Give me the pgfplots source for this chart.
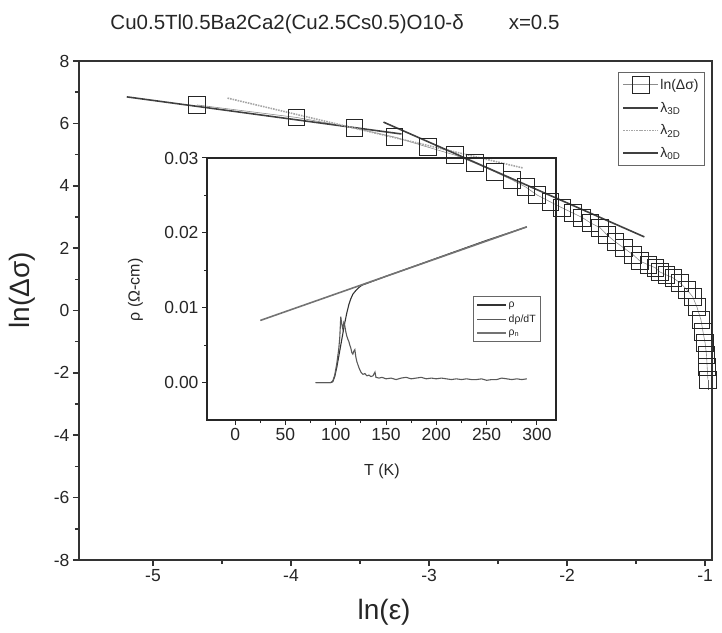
\documentclass[border=0pt]{standalone}
\usepackage{fontspec}
\setmainfont{Liberation Sans}
\usepackage{pgfplots}
\pgfplotsset{compat=1.18}
\begin{document}
\begin{tikzpicture}
\path[use as bounding box] (0pt,0pt) rectangle (722pt,632pt);
\node[font=\fontsize{20.5}{24}\selectfont, text=black!85] at (335pt,608pt) {Cu0.5Tl0.5Ba2Ca2(Cu2.5Cs0.5)O10-δ\hspace{2.2em}x=0.5};
\begin{axis}[
  at={(79pt,72pt)}, anchor=south west, scale only axis,
  width=633pt, height=499pt,
  xmin=-5.536, xmax=-0.95, ymin=-8, ymax=8,
  xtick={-5,-4,-3,-2,-1}, ytick={-8,-6,-4,-2,0,2,4,6,8},
  minor x tick num=1, minor y tick num=1,
  tick align=outside, xtick pos=bottom, ytick pos=left,
  major tick length=6pt, minor tick length=4pt,
  axis line style={line width=2.2pt, black!80},
  every tick/.style={line width=1.6pt, black!80},
  /pgf/number format/assume math mode=true,
  tick label style={font=\fontsize{17.5}{20}\selectfont, text=black!85},
  xlabel={ln(ε)}, ylabel={ln(Δσ)},
  label style={font=\fontsize{28}{31}\selectfont, text=black!85},
  xlabel style={at={(axis description cs:0.482,-0.105)}, anchor=center},
  ylabel style={at={(axis description cs:-0.09,0.541)}, anchor=center, rotate=0},
  legend style={at={(0.989,0.978)}, anchor=north east, draw=black!60, line width=0.8pt,
    font=\fontsize{14}{16}\selectfont, row sep=7pt, inner sep=4pt, text=black!85},
  legend image code/.code={\draw[mark repeat=2, mark phase=2, #1] plot coordinates {(0cm,0cm) (0.6cm,0cm) (1.2cm,0cm)};},
  legend cell align=left,
]
\addplot[black!45, line width=0.6pt, mark=square, mark size=8.4pt, mark options={black!85, solid, line width=0.9pt}] coordinates {
(-4.68,6.59) (-3.96,6.19) (-3.54,5.85) (-3.25,5.56) (-3.01,5.24) (-2.81,4.98)
(-2.67,4.73) (-2.52,4.44) (-2.40,4.19) (-2.30,3.96) (-2.22,3.71) (-2.12,3.48)
(-2.04,3.30) (-1.96,3.13) (-1.89,2.98) (-1.83,2.81) (-1.76,2.65) (-1.71,2.42)
(-1.65,2.20) (-1.59,2.01) (-1.52,1.78) (-1.47,1.58) (-1.41,1.46) (-1.36,1.37)
(-1.33,1.24) (-1.28,1.14) (-1.23,1.04) (-1.18,0.88) (-1.13,0.66) (-1.09,0.44)
(-1.06,0.12) (-1.03,-0.30) (-1.015,-0.69) (-1.00,-1.04) (-0.99,-1.42)
(-0.985,-1.81) (-0.98,-2.22)
};
\addlegendentry{ln(Δσ)}
\addplot[black!75, line width=1.6pt] coordinates {(-5.19,6.85) (-3.2,5.66)};
\addlegendentry{λ\textsubscript{3D}}
\addplot[black!35, line width=1.6pt, densely dotted] coordinates {(-4.46,6.81) (-2.32,4.57)};
\addlegendentry{λ\textsubscript{2D}}
\addplot[black!75, line width=1.6pt] coordinates {(-3.33,6.04) (-1.44,2.36)};
\addlegendentry{λ\textsubscript{0D}}
\addplot[black!60, line width=0.6pt, forget plot] coordinates {(-0.98,-2.22) (-0.98,-2.55)};
\end{axis}
\begin{axis}[
  at={(207pt,212pt)}, anchor=south west, scale only axis,
  width=349pt, height=262pt,
  xmin=-28, xmax=319, ymin=-0.005, ymax=0.03,
  xtick={0,50,100,150,200,250,300}, ytick={0,0.01,0.02,0.03},
  minor x tick num=1, minor y tick num=1,
  scaled y ticks=false,
  yticklabel style={/pgf/number format/.cd, fixed, fixed zerofill, precision=2},
  tick align=outside, xtick pos=bottom, ytick pos=left,
  major tick length=5pt, minor tick length=3pt,
  axis line style={line width=1.3pt, black!85},
  every tick/.style={line width=1pt, black!85},
  /pgf/number format/assume math mode=true,
  tick label style={font=\fontsize{17.5}{20}\selectfont, text=black!85},
  xlabel={T (K)}, ylabel={ρ (Ω-cm)},
  label style={font=\fontsize{16}{18}\selectfont, text=black!85},
  xlabel style={at={(axis description cs:0.501,-0.195)}, anchor=center},
  ylabel style={at={(axis description cs:-0.205,0.496)}, anchor=center, rotate=0},
  legend style={at={(0.957,0.473)}, anchor=north east, draw=black!60, line width=0.6pt,
    font=\fontsize{10.5}{12}\selectfont, row sep=2pt, inner sep=3pt, text=black!85},
  legend cell align=left,
  legend image code/.code={\draw[#1] (0cm,0cm) -- (1.0cm,0cm);},
]
\addplot[black!80, line width=1.1pt] coordinates {
(80,0) (85,0) (90,0) (95,0) (97,0.0001) (99,0.0008) (101,0.002) (103,0.0035)
(105,0.005) (107,0.0065) (109,0.008) (111,0.0093) (113,0.0104) (115,0.0112)
(117,0.0118) (120,0.0123) (123,0.0127) (126,0.0130) (130,0.0132) (150,0.0142)
(200,0.0166) (250,0.0190) (290,0.0208)
};
\addlegendentry{ρ}
\addplot[black!65, line width=1.1pt] coordinates {
(80,0) (85,0) (90,0) (95,0) (97,0.0002) (99,0.001) (101,0.0025) (103,0.0045)
(104,0.006) (105,0.0088) (106,0.0078) (107,0.0072) (108,0.0080) (109,0.0076)
(110,0.0068) (111,0.0062) (112,0.0058) (113,0.0055) (114,0.0050) (115,0.0046)
(116,0.0040) (117,0.0038) (118,0.0042) (119,0.0044) (120,0.0034) (121,0.0028)
(123,0.0020) (125,0.0014) (127,0.0011) (129,0.0012) (131,0.0009) (133,0.0010)
(135,0.0008) (137,0.0009) (139,0.0014) (140,0.0007) (143,0.0006) (146,0.0007)
(150,0.0005) (155,0.0006) (160,0.0004) (165,0.0006) (170,0.0007) (175,0.0005)
(180,0.0006) (185,0.0007) (190,0.0005) (195,0.0006) (200,0.0005) (205,0.0006)
(210,0.0005) (215,0.0004) (220,0.0005) (225,0.0004) (230,0.0005) (235,0.0004)
(240,0.0004) (245,0.0005) (250,0.0003) (255,0.0004) (260,0.0004) (265,0.0006)
(270,0.0005) (275,0.0004) (280,0.0005) (285,0.0004) (290,0.0005)
};
\addlegendentry{dρ/dT}
\addplot[black!55, line width=1.6pt] coordinates {(25,0.0083) (290,0.0208)};
\addlegendentry{ρ\textsubscript{n}}
\end{axis}
\end{tikzpicture}
\end{document}
